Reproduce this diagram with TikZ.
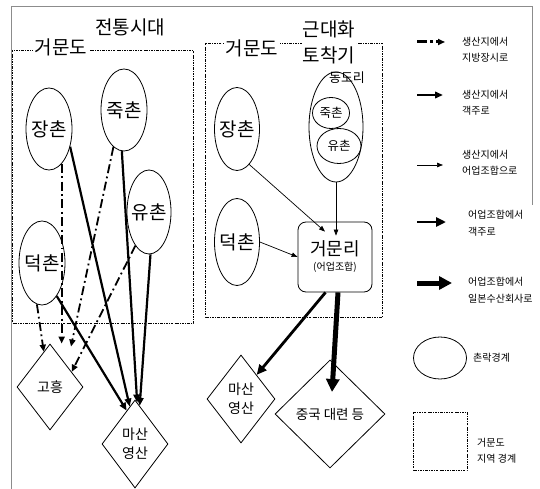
\documentclass[tikz,border=0pt]{standalone}
\usepackage{fontspec}
\setmainfont{Noto Sans CJK KR}
\usetikzlibrary{shapes.geometric,arrows.meta,calc}
\tikzset{
  village/.style={ellipse, draw, line width=0.8pt, inner sep=0pt, minimum width=46pt, minimum height=82pt},
  vname/.style={font=\fontsize{19}{19}\selectfont},
  sname/.style={font=\fontsize{12.5}{12.5}\selectfont},
  market/.style={diamond, draw, line width=0.8pt, inner sep=0pt, align=center, font=\fontsize{14}{19}\selectfont},
  region/.style={draw, line width=0.6pt, dash pattern=on 2.4pt off 1.2pt on 0.6pt off 1.2pt},
  tolocal/.style={line width=1.8pt, dash pattern=on 9pt off 3.5pt on 1.8pt off 3.5pt, -{Triangle[length=7pt,width=6pt]}},
  togaek/.style={line width=2.2pt, -{Triangle[length=8pt,width=6.5pt]}},
  tounion/.style={line width=0.7pt, -{Triangle[length=6pt,width=4.5pt]}},
  uniongaek/.style={line width=2.8pt, -{Triangle[length=10pt,width=9pt]}},
  unionjp/.style={line width=5pt, -{Triangle[length=13pt,width=13pt]}},
  legtext/.style={anchor=west, align=left, inner sep=0pt, font=\fontsize{10}{16.5}\selectfont},
}
\begin{document}
\begin{tikzpicture}[x=1pt, y=-1pt]
\useasboundingbox (0,0) rectangle (540,489);
\draw[black!45, line width=0.5pt] (11,489) -- (11,6) -- (532,6) -- (532,205);
% traditional period
\node[font=\fontsize{19}{19}\selectfont] (title1) at (130,27) {전통시대};
\draw[region] (12,50) rectangle (193,323);
\node[fill=white, inner sep=2pt, font=\fontsize{19}{19}\selectfont] (isle1) at (61,47) {거문도};
\node[village, label={[vname]center:장촌}] (jang) at (49,129) {};
\node[village, label={[vname]center:죽촌}] (juk) at (124,110) {};
\node[village, minimum width=44pt, minimum height=84pt, label={[vname]center:유촌}] (yu) at (149,212) {};
\node[village, minimum height=84pt, label={[vname]center:덕촌}] (deok) at (42,263) {};
\node[market, minimum width=66pt, minimum height=86pt] (goheung) at (50,387) {고흥};
\node[market, minimum width=66pt, minimum height=88pt] (masan) at (135,444) {마산\\영산};
\draw[tolocal] (deok.-97) -- (goheung.100);
\draw[tolocal] (jang.-70) -- (jang.-70 |- goheung.north);
\draw[tolocal] (juk.-106) -- ($(goheung.north)+(21,3)$);
\draw[tolocal] (yu.-112) -- (goheung.35);
\draw[togaek] (jang.-40) -- (masan.98);
\draw[togaek] (juk.-93) -- (masan.87);
\draw[togaek] (yu.-88) -- (masan.83);
\draw[togaek] (deok.-66) -- (masan.104);
% modern period
\draw[region] (205,43) rectangle (382,317);
\node[fill=white, inner sep=2pt, font=\fontsize{19}{19}\selectfont] (isle2) at (252,48) {거문도};
\node[fill=white, inner sep=1pt, align=center, font=\fontsize{19}{26}\selectfont] (title2) at (329,42) {근대화\\토착기};
\node[village, minimum width=45pt, minimum height=83pt, label={[vname]center:장촌}] (jang2) at (237,129) {};
\node[village, minimum width=45pt, minimum height=87pt, label={[vname]center:덕촌}] (deok2) at (237,242) {};
\node[village, minimum width=54pt, minimum height=110pt] (dongdo) at (336,127) {};
\node[font=\fontsize{13}{13}\selectfont] (dongdoname) at (347,78) {동도리};
\node[village, minimum width=37pt, minimum height=31pt, label={[sname]center:죽촌}] (juk2) at (331,113) {};
\node[village, minimum width=44pt, minimum height=35pt, label={[sname]center:유촌}] (yu2) at (339,146) {};
\node[draw, line width=0.8pt, rounded corners=8pt, minimum width=74pt, minimum height=70pt, align=center] (geomun) at (335,257)
  {{\fontsize{18}{20}\selectfont 거문리}\\[3pt]{\fontsize{10}{12}\selectfont (어업조합)}};
\node[market, minimum width=68pt, minimum height=88pt] (masan2) at (241,399) {마산\\영산};
\node[market, minimum width=110pt, minimum height=108pt, font=\fontsize{13.5}{16}\selectfont] (daeryeon) at (330,414) {중국 대련 등};
\draw[tounion] (jang2.-71) -- ($(geomun.north)+(-10,10)$);
\draw[tounion] (dongdo.south) -- ($(geomun.north)+(1,14)$);
\draw[tounion] (deok2.east) -- (geomun.west);
\draw[uniongaek] (geomun.255) -- (masan2.57);
\draw[unionjp] ($(geomun.south)+(3,0)$) -- ($(daeryeon.center)+(2,-22)$);
% legend
\coordinate (k1) at (417,42);
\coordinate (k1e) at (445,42);
\draw[tolocal, line width=3pt, dash pattern=on 10pt off 3pt on 3pt off 3pt] (k1) -- (k1e);
\node[legtext] (k1t) at (462,50) {생산지에서\\지방장시로};
\coordinate (k2) at (417,95);
\coordinate (k2e) at (443,95);
\draw[togaek] (k2) -- (k2e);
\node[legtext] (k2t) at (462,103) {생산지에서\\객주로};
\coordinate (k3) at (417,165);
\coordinate (k3e) at (443,165);
\draw[tounion] (k3) -- (k3e);
\node[legtext] (k3t) at (462,163) {생산지에서\\어업조합으로};
\coordinate (k4) at (417,222);
\coordinate (k4e) at (446,222);
\draw[uniongaek] (k4) -- (k4e);
\node[legtext] (k4t) at (468,223) {어업조합에서\\객주로};
\coordinate (k5) at (417,283);
\coordinate (k5e) at (452,283);
\draw[unionjp] (k5) -- (k5e);
\node[legtext] (k5t) at (468,290) {어업조합에서\\일본수산회사로};
\node[village, minimum width=53pt, minimum height=42pt] (k6) at (440,358) {};
\node[legtext] (k6t) at (473,358) {촌락경계};
\draw[region] (413,412) rectangle (467,470);
\node[legtext] (k7t) at (477,451) {거문도\\지역 경계};
\end{tikzpicture}
\end{document}
